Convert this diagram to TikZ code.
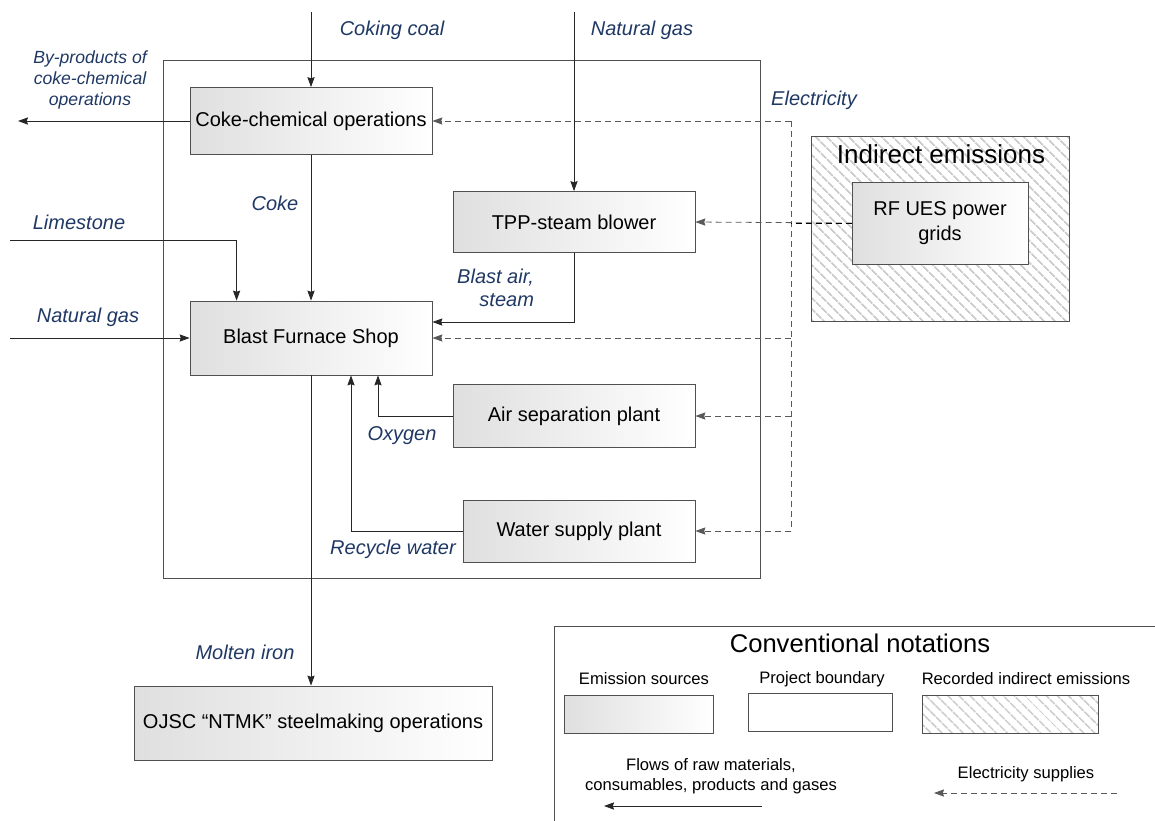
\documentclass[tikz,border=0pt]{standalone}
\usepackage{fontspec}
\setmainfont{Liberation Sans}
\usetikzlibrary{arrows.meta,calc,positioning,patterns.meta}
\definecolor{labelblue}{RGB}{31,56,100}
\definecolor{edgegray}{RGB}{80,80,80}
\tikzstyle{source} = [draw=edgegray, left color=gray!25, right color=white, font=\fontsize{10}{12.5}\selectfont, inner sep=2pt]
\tikzstyle{hatch} = [draw=edgegray, pattern={Lines[angle=-45,distance=4pt,line width=0.9pt]}, pattern color=gray!40]
\tikzstyle{flow} = [-{Stealth[length=5pt,width=3.6pt,inset=0.6pt]}, black!85]
\tikzstyle{elecline} = [dash pattern=on 3pt off 2pt, gray!70!black]
\tikzstyle{elec} = [elecline, -{Stealth[length=5pt,width=3.6pt,inset=0.6pt]}]
\tikzstyle{lbl} = [text=labelblue, font=\fontsize{10}{11.5}\selectfont\itshape]
\tikzstyle{legtext} = [font=\fontsize{8.3}{10}\selectfont]

\begin{document}
\begin{tikzpicture}[x=0.5pt,y=-0.5pt]
\useasboundingbox (0,0) rectangle (1155,820);

% project boundary
\node[draw=edgegray, minimum width=298.5pt, minimum height=259pt] (boundary) at (461.5,319) {};

% emission sources
\node[source, minimum width=121pt, minimum height=33.5pt] (coke) at (311,121) {Coke-chemical operations};
\node[source, minimum width=121pt, minimum height=30.5pt] (tpp) at (574,222) {TPP-steam blower};
\node[source, minimum width=121pt, minimum height=37pt] (blast) at (311,338) {Blast Furnace Shop};
\node[source, minimum width=121pt, minimum height=31.5pt] (asp) at (574,416) {Air separation plant};
\node[source, minimum width=116pt, minimum height=31pt] (wsp) at (579,531) {Water supply plant};
\node[source, minimum width=179pt, minimum height=37pt] (ojsc) at (313,723) {OJSC “NTMK” steelmaking operations};

% indirect emissions
\node[hatch, minimum width=129pt, minimum height=92.5pt] (indirect) at (940,228.5) {};
\node[font=\fontsize{13}{15}\selectfont] (indtitle) at (941,154) {Indirect emissions};
\node[source, minimum width=88pt, minimum height=41pt, align=center] (rfues) at (940,223) {RF UES power\\grids};

% free ends
\coordinate (coaltop) at (311,12);
\coordinate (gastop) at (574,12);
\coordinate (byprod) at (18,121);
\coordinate (limein) at (10,240);
\coordinate (gasin) at (10,338);
\coordinate (bustop) at (791,121);

% material flows
\draw[flow] (coaltop) -- (coke.north);
\draw[flow] (gastop) -- (tpp.north);
\draw[flow] (coke.west) -- (byprod);
\draw[flow] (coke.south) -- (blast.north);
\draw[flow] (limein) -| ($(blast.north west)+(47,0)$);
\draw[flow] (gasin) -- (blast.west);
\draw[flow] (tpp.south) |- ($(blast.east)+(0,-16)$);
\draw[flow] (asp.west) -| ($(blast.south)+(67,0)$);
\draw[flow] (wsp.west) -| ($(blast.south)+(40,0)$);
\draw[flow] (blast.south) -- (blast.south |- ojsc.north);

% electricity
\draw[elecline] (bustop) -- (wsp.east -| bustop);
\draw[elec] (bustop) -- (coke.east);
\draw[elec] (rfues.west) -- (tpp.east);
\draw[elecline, black] (rfues.west) -- (rfues.west -| bustop);
\draw[elec] (blast.east -| bustop) -- (blast.east);
\draw[elec] (asp.east -| bustop) -- (asp.east);
\draw[elec] (wsp.east -| bustop) -- (wsp.east);

% flow labels
\node[lbl] (lcoal) at (392,30) {Coking coal};
\node[lbl] (lgastop) at (642,30) {Natural gas};
\node[lbl, font=\fontsize{8.8}{10.3}\selectfont\itshape, align=center] (lbyprod) at (90,80) {By-products of\\coke-chemical\\operations};
\node[lbl] (lelec) at (814,100) {Electricity};
\node[lbl] (lcoke) at (275,203) {Coke};
\node[lbl] (llime) at (79,222) {Limestone};
\node[lbl] (lgasin) at (88,317) {Natural gas};
\node[lbl, align=right, anchor=east] (lblast) at (541,288) {Blast air,\\steam};
\node[lbl] (loxy) at (402,436) {Oxygen};
\node[lbl] (lwater) at (393,549) {Recycle water};
\node[lbl] (liron) at (245,652) {Molten iron};

% conventional notations
\draw[edgegray] (554,626) rectangle (1170,835);
\node[font=\fontsize{12.8}{14}\selectfont] (legtitle) at (860,643) {Conventional notations};
\node[legtext] (legsrc) at (644,679) {Emission sources};
\node[source, minimum width=74.5pt, minimum height=19pt] (legsrcbox) at (638.5,714) {};
\node[legtext] (legbnd) at (822,679) {Project boundary};
\node[draw=edgegray, minimum width=72pt, minimum height=19pt] (legbndbox) at (820,712) {};
\node[legtext] (legind) at (1026,679) {Recorded indirect emissions};
\node[hatch, minimum width=88pt, minimum height=19pt] (legindbox) at (1010,714) {};
\node[legtext, align=center] (legflow) at (711,776) {Flows of raw materials,\\consumables, products and gases};
\coordinate (legflowa) at (762,806);
\coordinate (legflowb) at (604,806);
\draw[flow] (legflowa) -- (legflowb);
\node[legtext] (legelec) at (1026,774) {Electricity supplies};
\coordinate (legeleca) at (1117,793);
\coordinate (legelecb) at (934,793);
\draw[elec] (legeleca) -- (legelecb);
\end{tikzpicture}
\end{document}
